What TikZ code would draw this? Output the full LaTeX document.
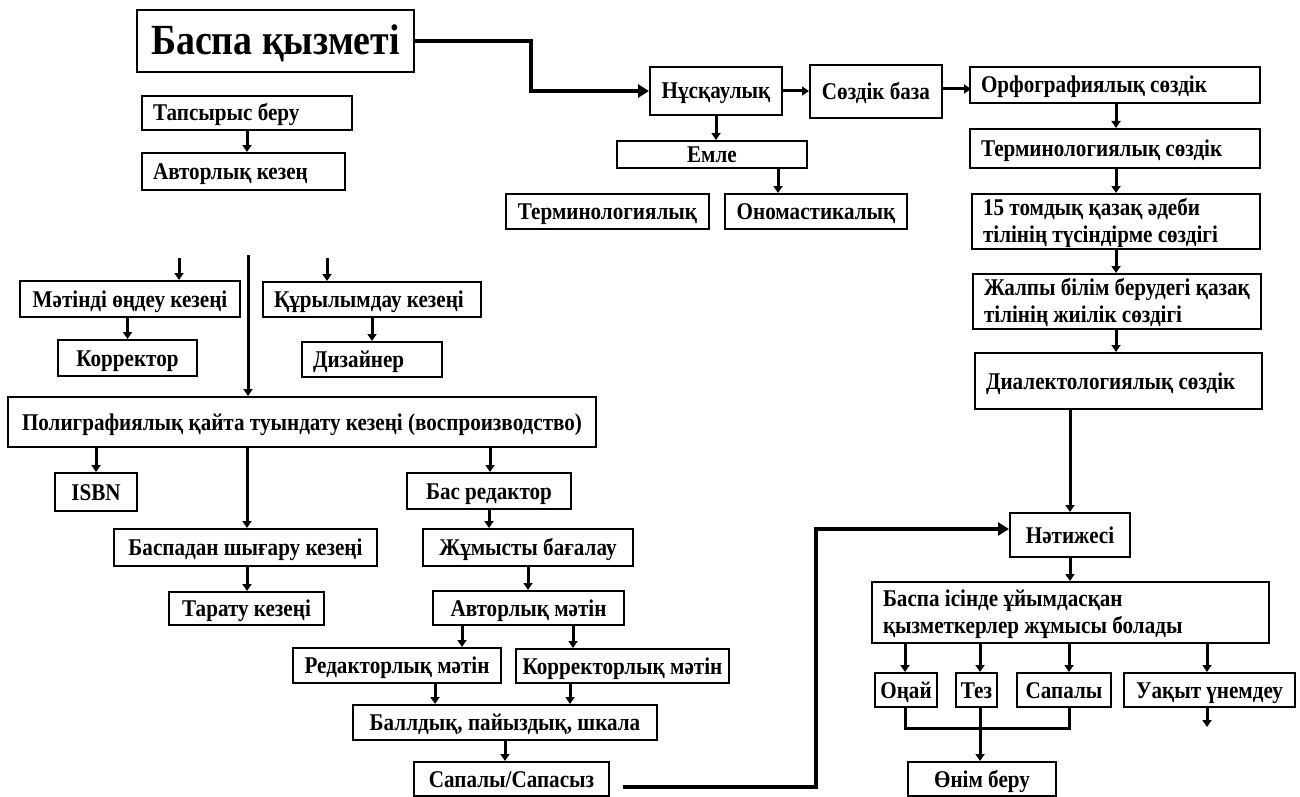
\documentclass[tikz,border=0pt]{standalone}
\usepackage{fontspec}
\setmainfont{Liberation Serif}[FakeStretch=0.88]
\usetikzlibrary{arrows.meta}
\tikzset{
 box/.style={draw, line width=2pt, inner xsep=11pt, inner ysep=0pt, text height=16pt, text depth=0pt, font=\bfseries\fontsize{24}{27}\selectfont},
 twoline/.style={text depth=27.5pt},
 arr/.style={line width=3pt, -{Triangle[width=9pt,length=7pt]}},
 bigarr/.style={line width=4pt, -{Triangle[width=13pt,length=11pt]}},
 ln/.style={line width=3pt},
}
\newcommand{\kzbox}[7][]{%
 \pgfmathsetmacro\kzw{#5-#3}\pgfmathsetmacro\kzh{#6-#4}%
 \node[box, inner xsep=2pt, minimum width=\kzw pt, minimum height=\kzh pt, #1] (#2) at ({(#3+#5)/2},{(#4+#6)/2}) {#7};}
\newcommand{\kzboxl}[7][]{%
 \pgfmathsetmacro\kzw{#5-#3}\pgfmathsetmacro\kzh{#6-#4}\pgfmathsetmacro\kztw{#5-#3-22}%
 \node[box, minimum width=\kzw pt, minimum height=\kzh pt, #1] (#2) at ({(#3+#5)/2},{(#4+#6)/2}) {\makebox[\kztw pt][l]{\begin{tabular}[t]{@{}l@{}}#7\end{tabular}}};}
\begin{document}
\begin{tikzpicture}[x=1pt,y=-1pt]
\useasboundingbox[fill=white] (0,0) rectangle (1300,797);
% boxes
\kzbox[text height=28pt, font=\bfseries\fontsize{43}{46}\selectfont]{top}{137}{10}{414}{72}{Баспа қызметі}
\kzboxl{tap}{142}{96}{352}{130}{Тапсырыс беру}
\kzboxl{avt}{142}{153}{345}{190}{Авторлық кезең}
\kzbox{nus}{650}{67}{782}{115}{Нұсқаулық}
\kzbox{soz}{810}{65}{942}{118}{Сөздік база}
\kzbox{emle}{617}{141}{807}{168}{Емле}
\kzbox{term}{506}{194}{709}{229}{Терминологиялық}
\kzbox{onom}{725}{194}{907}{229}{Ономастикалық}
\kzboxl{orf}{970}{67}{1260}{103}{Орфографиялық сөздік}
\kzboxl{tsoz}{970}{129}{1260}{168}{Терминологиялық сөздік}
\kzboxl[twoline]{t15}{972}{194}{1260}{249}{15 томдық қазақ әдеби\\тілінің түсіндірме сөздігі}
\kzboxl[twoline]{zhal}{973}{274}{1261}{329}{Жалпы білім берудегі қазақ\\тілінің жиілік сөздігі}
\kzboxl{dial}{975}{353}{1262}{409}{Диалектологиялық сөздік}
\kzbox{mat}{20}{281}{240}{317}{Мәтінді өңдеу кезеңі}
\kzbox{kor}{58}{340}{197}{376}{Корректор}
\kzboxl{qur}{263}{282}{481}{317}{Құрылымдау кезеңі}
\kzboxl{diz}{302}{342}{442}{377}{Дизайнер}
\kzbox{pol}{8}{397}{596}{447}{Полиграфиялық қайта туындату кезеңі (воспроизводство)}
\kzbox{isbn}{55}{473}{137}{511}{ISBN}
\kzbox{bsh}{114}{529}{377}{566}{Баспадан шығару кезеңі}
\kzbox{tar}{169}{592}{324}{625}{Тарату кезеңі}
\kzbox{bas}{407}{473}{571}{509}{Бас редактор}
\kzbox{zhum}{423}{529}{633}{566}{Жұмысты бағалау}
\kzbox{avm}{433}{591}{624}{625}{Авторлық мәтін}
\kzbox{red}{293}{648}{501}{683}{Редакторлық мәтін}
\kzbox{korm}{516}{649}{729}{683}{Корректорлық мәтін}
\kzbox{ball}{353}{705}{657}{740}{Баллдық, пайыздық, шкала}
\kzbox{sap}{414}{762}{609}{796}{Сапалы/Сапасыз}
\kzbox{nat}{1010}{513}{1130}{557}{Нәтижесі}
\kzboxl[twoline]{bis}{872}{582}{1269}{643}{Баспа ісінде ұйымдасқан\\қызметкерлер жұмысы болады}
\kzbox{onai}{875}{673}{937}{707}{Оңай}
\kzbox{tez}{956}{673}{997}{707}{Тез}
\kzbox{sapl}{1017}{673}{1111}{707}{Сапалы}
\kzbox{uaq}{1124}{673}{1295}{707}{Уақыт үнемдеу}
\kzbox{onim}{908}{762}{1056}{796}{Өнім беру}
% guide coordinates
\coordinate (g1116) at (1116,0);
\coordinate (g905) at (905,0);
\coordinate (g980) at (980,0);
\coordinate (g1069) at (1069,0);
\coordinate (g1207) at (1207,0);
\coordinate (g778) at (778,0);
\coordinate (g462) at (462,0);
\coordinate (g573) at (573,0);
\coordinate (g435) at (435,0);
\coordinate (g570) at (570,0);
\coordinate (g247) at (247,0);
\coordinate (g490) at (490,0);
\coordinate (m0) at (179,258);
\coordinate (q0) at (327,258);
\coordinate (v0) at (248,255);
% connectors top
\draw[bigarr] (top.east) -- ++(116,0) |- (nus.west);
\draw[arr] (nus.east) -- (nus.east -| soz.west);
\draw[arr] (soz.east |- orf.west) ++(0,4) -- ++(28,0);
\draw[arr] (nus.south) -- (nus.south |- emle.north);
\draw[arr] (emle.south -| g778) -- (onom.north -| g778);
\draw[arr] (tap.south) -- (tap.south |- avt.north);
% right column
\draw[arr] (orf.south -| g1116) -- (tsoz.north -| g1116);
\draw[arr] (tsoz.south -| g1116) -- (t15.north -| g1116);
\draw[arr] (t15.south -| g1116) -- (zhal.north -| g1116);
\draw[arr] (zhal.south -| g1116) -- (dial.north -| g1116);
\draw[arr] (dial.south -| nat.north) -- (nat.north);
\draw[arr] (nat.south) -- (nat.south |- bis.north);
\draw[arr] (bis.south -| g905) -- (onai.north -| g905);
\draw[arr] (bis.south -| g980) -- (tez.north -| g980);
\draw[arr] (bis.south -| g1069) -- (sapl.north -| g1069);
\draw[arr] (bis.south -| g1207) -- (uaq.north -| g1207);
\coordinate (uend) at ([yshift=-19pt]uaq.south -| g1207);
\draw[arr] (uaq.south -| g1207) -- (uend);
\draw[ln] (onai.south -| g905) -- ++(0,20) -| (sapl.south -| g1069);
\draw[arr] (tez.south -| g980) -- (onim.north -| g980);
\draw[bigarr] ([shift={(13,8)}]sap.east) -- ++(193,0) |- ([yshift=6pt]nat.west);
% left part
\draw[arr] (m0) -- (m0 |- mat.north);
\draw[arr] (q0) -- (q0 |- qur.north);
\draw[arr] (v0) -- (v0 |- pol.north);
\draw[arr] (mat.south -| kor.north) -- (kor.north);
\draw[arr] (qur.south -| diz.north) -- (diz.north);
\draw[arr] (pol.south -| isbn.north) -- (isbn.north);
\draw[arr] (pol.south -| g247) -- (bsh.north -| g247);
\draw[arr] (pol.south -| g490) -- (bas.north -| g490);
\draw[arr] (bsh.south -| g247) -- (tar.north -| g247);
\draw[arr] (bas.south) -- (bas.south |- zhum.north);
\draw[arr] (zhum.south) -- (zhum.south |- avm.north);
\draw[arr] (avm.south -| g462) -- (red.north -| g462);
\draw[arr] (avm.south -| g573) -- (korm.north -| g573);
\draw[arr] (red.south -| g435) -- (ball.north -| g435);
\draw[arr] (korm.south -| g570) -- (ball.north -| g570);
\draw[arr] (ball.south) -- (ball.south |- sap.north);
\end{tikzpicture}
\end{document}
